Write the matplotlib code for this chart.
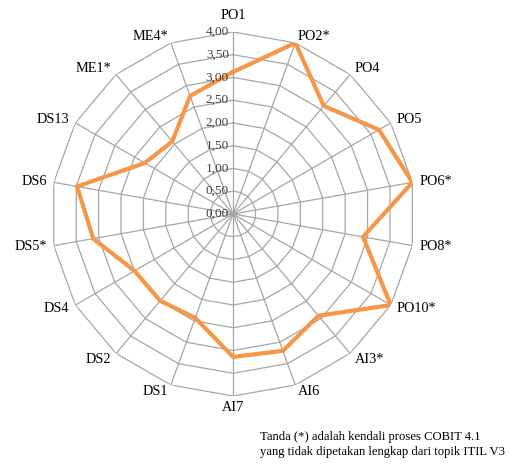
import numpy as np
import matplotlib.pyplot as plt

# DATA
kategori = ['PO1', 'PO2*', 'PO4', 'PO5', 'PO6*', 'PO8*', 'PO10*', 'AI3*', 'AI6',
            'AI7', 'DS1', 'DS2', 'DS4', 'DS5*', 'DS6', 'DS13', 'ME1*', 'ME4*']
nilai = [3.12, 4.00, 3.10, 3.70, 4.00, 2.90, 4.00, 2.92, 3.20,
         3.14, 2.43, 2.49, 2.50, 3.12, 3.48, 2.24, 2.08, 2.76]
level = [0.0, 0.5, 1.0, 1.5, 2.0, 2.5, 3.0, 3.5, 4.0]
level_label = ['0,00', '0,50', '1,00', '1,50', '2,00', '2,50', '3,00', '3,50', '4,00']
catatan = ['Tanda (*) adalah kendali proses COBIT 4.1',
           'yang tidak dipetakan lengkap dari topik ITIL V3']

plt.rcParams['font.family'] = ['Liberation Serif', 'DejaVu Serif']

n = len(kategori)
sudut = np.arange(n) * 2 * np.pi / n
sudut_tutup = np.append(sudut, sudut[0])

fig = plt.figure(figsize=(5.10, 4.68), dpi=100)
ax = fig.add_axes([0.1, 0.1538, 0.714, 0.778], projection='polar')
ax.set_theta_zero_location('N')
ax.set_theta_direction(-1)
ax.set_ylim(0, 4)
ax.axis('off')

# GRID POLIGON
abu = '#a6a6a6'
for lv in level[1:]:
    ax.plot(sudut_tutup, [lv] * (n + 1), color=abu, lw=0.9, zorder=1)
for s in sudut:
    ax.plot([s, s], [0, 4], color=abu, lw=0.9, zorder=1)

# DATA
nilai_tutup = nilai + [nilai[0]]
ax.plot(sudut_tutup, nilai_tutup, color='#f79646', lw=3.0, zorder=3,
        solid_joinstyle='miter')

# LABEL SKALA
for lv, lb in zip(level, level_label):
    ax.annotate(lb, xy=(0, lv), xytext=(-3, 0), textcoords='offset points',
                ha='right', va='center', fontsize=9.5, color='#404040')

# LABEL KATEGORI
for s, k in zip(sudut, kategori):
    sn = np.sin(s)
    if abs(sn) < 0.01:
        ha = 'center'
        va = 'bottom' if np.cos(s) > 0 else 'top'
        r = 4.22 if np.cos(s) > 0 else 4.1
    else:
        ha = 'left' if sn > 0 else 'right'
        va = 'center'
        r = 4.16
    ax.text(s, r, k, ha=ha, va=va, fontsize=10.3, color='black')

# CATATAN
fig.text(260 / 510, 1 - 437 / 468, catatan[0], ha='left', va='center', fontsize=9.1)
fig.text(260 / 510, 1 - 452 / 468, catatan[1], ha='left', va='center', fontsize=9.1)

fig.savefig('out.png', dpi=100)
